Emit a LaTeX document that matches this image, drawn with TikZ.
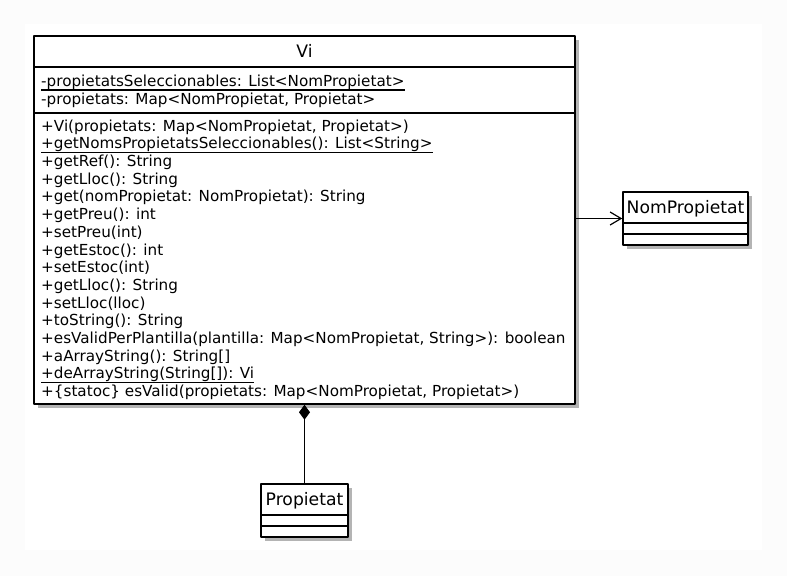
\documentclass[tikz,border=0pt]{standalone}
\usepackage{fontspec}
\setmainfont{DejaVu Sans}
\usetikzlibrary{arrows.meta,shadows}
\definecolor{fonsgris}{rgb}{0.99,0.99,0.99}
\definecolor{ombra}{rgb}{0.35,0.35,0.35}

\begin{document}
\begin{tikzpicture}[line cap=round,line join=round,x=1pt,y=-1pt,
	classbox/.style={draw=black,line width=1.5pt,fill=white,inner sep=0pt,
		drop shadow={shadow xshift=4pt,shadow yshift=-4pt,fill=ombra,opacity=0.45}},
	sep/.style={line width=1.5pt,line cap=butt},
	classname/.style={anchor=base,inner sep=0pt,font=\fontsize{17.2}{20}\selectfont},
	member/.style={anchor=base west,inner sep=0pt,font=\fontsize{15.2}{17.7}\selectfont},
	uline/.style={line width=1.2pt,line cap=butt},
	assoc/.style={line width=1pt,-{Straight Barb[length=11pt,width=13pt,line width=1.2pt]}},
	compo/.style={line width=1pt,{Diamond[fill=black,length=15pt,width=11pt]}-}]
	\useasboundingbox (0,0) rectangle (787,576);
	\fill[fonsgris] (0,0) rectangle (787,576);
	\fill[white] (25,24) rectangle (762,550);
	% class Vi
	\node[classbox,minimum width=541pt,minimum height=368pt] (vi) at (304.5,220) {};
	\draw[sep] (vi.west |- 0,67) -- (vi.east |- 0,67);
	\draw[sep] (vi.west |- 0,113) -- (vi.east |- 0,113);
	\node[classname] (vin) at (304.5,57.5) {Vi};
	\node[member] (a1) at (41,86.4) {-propietatsSeleccionables: List<NomPropietat>};
		\draw[uline] ([yshift=-3.5pt]a1.base west) -- ([yshift=-3.5pt]a1.base east);
	\node[member] (a2) at (41,104.1) {-propietats: Map<NomPropietat, Propietat>};
	\node[member] (m1) at (41,131.1) {+Vi(propietats: Map<NomPropietat, Propietat>)};
	\node[member] (m2) at (41,148.8) {+getNomsPropietatsSeleccionables(): List<String>};
		\draw[uline] ([yshift=-3.5pt]m2.base west) -- ([yshift=-3.5pt]m2.base east);
	\node[member] (m3) at (41,166.5) {+getRef(): String};
	\node[member] (m4) at (41,184.2) {+getLloc(): String};
	\node[member] (m5) at (41,201.9) {+get(nomPropietat: NomPropietat): String};
	\node[member] (m6) at (41,219.6) {+getPreu(): int};
	\node[member] (m7) at (41,237.3) {+setPreu(int)};
	\node[member] (m8) at (41,255.0) {+getEstoc(): int};
	\node[member] (m9) at (41,272.7) {+setEstoc(int)};
	\node[member] (m10) at (41,290.4) {+getLloc(): String};
	\node[member] (m11) at (41,308.1) {+setLloc(lloc)};
	\node[member] (m12) at (41,325.8) {+toString(): String};
	\node[member] (m13) at (41,343.5) {+esValidPerPlantilla(plantilla: Map<NomPropietat, String>): boolean};
	\node[member] (m14) at (41,361.2) {+aArrayString(): String[]};
	\node[member] (m15) at (41,378.9) {+deArrayString(String[]): Vi};
		\draw[uline] ([yshift=-3.5pt]m15.base west) -- ([yshift=-3.5pt]m15.base east);
	\node[member] (m16) at (41,396.6) {+\{statoc\} esValid(propietats: Map<NomPropietat, Propietat>)};
	% class NomPropietat
	\node[classbox,minimum width=125pt,minimum height=53pt] (nom) at (685.5,218.5) {};
	\draw[sep] (nom.west |- 0,223) -- (nom.east |- 0,223);
	\draw[sep] (nom.west |- 0,234) -- (nom.east |- 0,234);
	\node[classname] (nomn) at (685.5,213.5) {NomPropietat};
	% class Propietat
	\node[classbox,minimum width=87pt,minimum height=53pt] (prop) at (304.5,510.5) {};
	\draw[sep] (prop.west |- 0,515) -- (prop.east |- 0,515);
	\draw[sep] (prop.west |- 0,526) -- (prop.east |- 0,526);
	\node[classname] (propn) at (304.5,505.5) {Propietat};
	% relations
	\draw[assoc] (vi.east |- nom.west) -- (nom.west);
	\draw[compo] (vi.south) -- (prop.north);
\end{tikzpicture}
\end{document}
